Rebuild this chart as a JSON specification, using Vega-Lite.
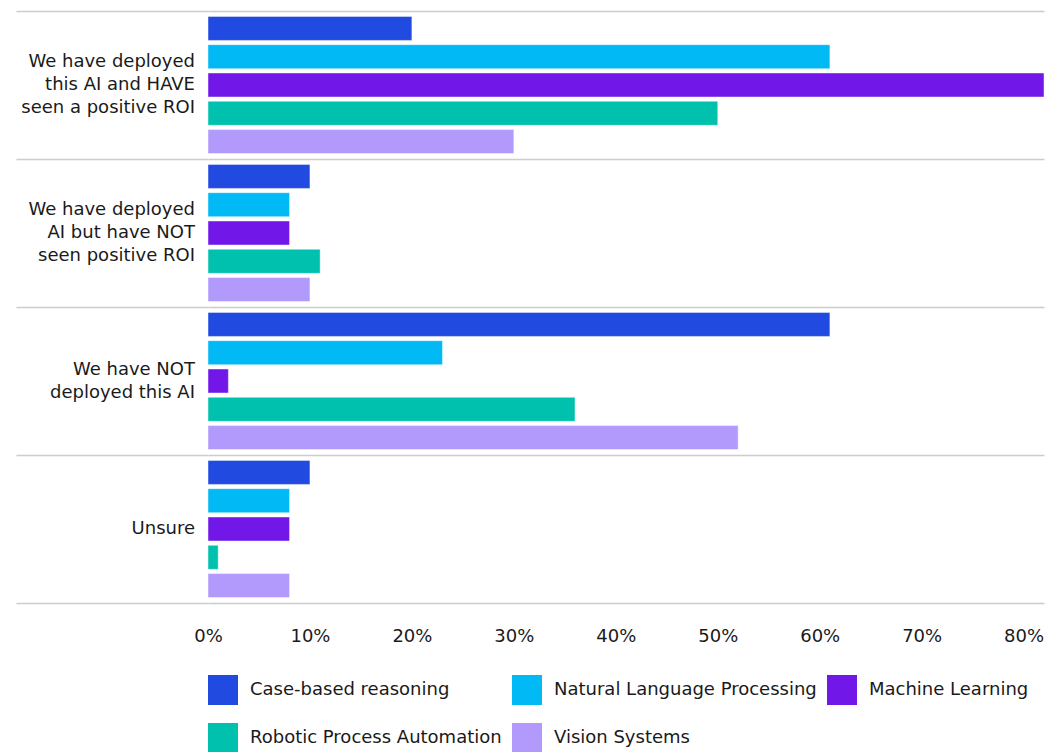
{
  "$schema": "https://vega.github.io/schema/vega-lite/v6.json",
  "padding": {"left": 15, "top": 10, "right": 0, "bottom": 0},
  "width": 836,
  "height": 592,
  "background": "white",
  "config": {
    "view": {"stroke": null},
    "font": "DejaVu Sans"
  },
  "data": {
    "values": [
      {"status": "We have deployed|this AI and HAVE|seen a positive ROI", "tech": "Case-based reasoning", "share": 0.20},
      {"status": "We have deployed|this AI and HAVE|seen a positive ROI", "tech": "Natural Language Processing", "share": 0.61},
      {"status": "We have deployed|this AI and HAVE|seen a positive ROI", "tech": "Machine Learning", "share": 0.82},
      {"status": "We have deployed|this AI and HAVE|seen a positive ROI", "tech": "Robotic Process Automation", "share": 0.50},
      {"status": "We have deployed|this AI and HAVE|seen a positive ROI", "tech": "Vision Systems", "share": 0.30},
      {"status": "We have deployed|AI but have NOT|seen positive ROI", "tech": "Case-based reasoning", "share": 0.10},
      {"status": "We have deployed|AI but have NOT|seen positive ROI", "tech": "Natural Language Processing", "share": 0.08},
      {"status": "We have deployed|AI but have NOT|seen positive ROI", "tech": "Machine Learning", "share": 0.08},
      {"status": "We have deployed|AI but have NOT|seen positive ROI", "tech": "Robotic Process Automation", "share": 0.11},
      {"status": "We have deployed|AI but have NOT|seen positive ROI", "tech": "Vision Systems", "share": 0.10},
      {"status": "We have NOT|deployed this AI", "tech": "Case-based reasoning", "share": 0.61},
      {"status": "We have NOT|deployed this AI", "tech": "Natural Language Processing", "share": 0.23},
      {"status": "We have NOT|deployed this AI", "tech": "Machine Learning", "share": 0.02},
      {"status": "We have NOT|deployed this AI", "tech": "Robotic Process Automation", "share": 0.36},
      {"status": "We have NOT|deployed this AI", "tech": "Vision Systems", "share": 0.52},
      {"status": "Unsure", "tech": "Case-based reasoning", "share": 0.10},
      {"status": "Unsure", "tech": "Natural Language Processing", "share": 0.08},
      {"status": "Unsure", "tech": "Machine Learning", "share": 0.08},
      {"status": "Unsure", "tech": "Robotic Process Automation", "share": 0.01},
      {"status": "Unsure", "tech": "Vision Systems", "share": 0.08}
    ]
  },
  "encoding": {
    "y": {
      "field": "status",
      "type": "nominal",
      "sort": null,
      "title": null,
      "scale": {"paddingInner": 0, "paddingOuter": 0},
      "axis": {
        "domain": false,
        "labels": false,
        "ticks": true,
        "tickBand": "extent",
        "tickSize": 192,
        "tickColor": "#cccccc",
        "tickWidth": 1.5,
        "grid": true,
        "gridColor": "#cccccc",
        "gridWidth": 1.5
      }
    },
    "x": {
      "field": "share",
      "type": "quantitative",
      "title": null,
      "scale": {"domain": [0, 0.82], "nice": false},
      "axis": {
        "values": [0, 0.1, 0.2, 0.3, 0.4, 0.5, 0.6, 0.7, 0.8],
        "format": ".0%",
        "domain": false,
        "ticks": false,
        "grid": false,
        "labelPadding": 24,
        "labelFontSize": 18,
        "labelColor": "#1a1a1a",
        "labelFlush": false
      }
    }
  },
  "layer": [
    {
      "mark": {"type": "bar", "stroke": "white", "strokeWidth": 1, "strokeOpacity": 0.45, "clip": false},
      "encoding": {
        "yOffset": {
          "field": "tech",
          "type": "nominal",
          "sort": ["Case-based reasoning", "Natural Language Processing", "Machine Learning", "Robotic Process Automation", "Vision Systems"],
          "scale": {"paddingInner": 0.15, "paddingOuter": 0.19}
        },
        "color": {
          "field": "tech",
          "type": "nominal",
          "sort": ["Case-based reasoning", "Natural Language Processing", "Machine Learning", "Robotic Process Automation", "Vision Systems"],
          "scale": {
            "domain": ["Case-based reasoning", "Natural Language Processing", "Machine Learning", "Robotic Process Automation", "Vision Systems"],
            "range": ["#214be0", "#00b9f5", "#7118e8", "#00c0ae", "#b29afc"]
          },
          "legend": {
            "title": null,
            "orient": "bottom",
            "direction": "horizontal",
            "columns": 3,
            "columnPadding": 10,
            "rowPadding": 18,
            "symbolType": "square",
            "symbolSize": 900,
            "symbolStrokeWidth": 0,
            "labelFontSize": 18,
            "labelColor": "#1a1a1a",
            "labelOffset": 12,
            "labelLimit": 0,
            "offset": 30
          }
        }
      }
    },
    {
      "transform": [{"filter": "datum.tech == 'Case-based reasoning' && length(split(datum.status, '|')) == 3"}],
      "mark": {"type": "text", "align": "right", "baseline": "middle", "dx": -13, "dy": -23, "lineBreak": "|", "lineHeight": 23, "fontSize": 18, "color": "#1a1a1a"},
      "encoding": {
        "x": {"datum": 0, "type": "quantitative"},
        "text": {"field": "status", "type": "nominal"}
      }
    },
    {
      "transform": [{"filter": "datum.tech == 'Case-based reasoning' && length(split(datum.status, '|')) == 2"}],
      "mark": {"type": "text", "align": "right", "baseline": "middle", "dx": -13, "dy": -11.5, "lineBreak": "|", "lineHeight": 23, "fontSize": 18, "color": "#1a1a1a"},
      "encoding": {
        "x": {"datum": 0, "type": "quantitative"},
        "text": {"field": "status", "type": "nominal"}
      }
    },
    {
      "transform": [{"filter": "datum.tech == 'Case-based reasoning' && length(split(datum.status, '|')) == 1"}],
      "mark": {"type": "text", "align": "right", "baseline": "middle", "dx": -13, "dy": 0, "lineBreak": "|", "lineHeight": 23, "fontSize": 18, "color": "#1a1a1a"},
      "encoding": {
        "x": {"datum": 0, "type": "quantitative"},
        "text": {"field": "status", "type": "nominal"}
      }
    }
  ]
}
